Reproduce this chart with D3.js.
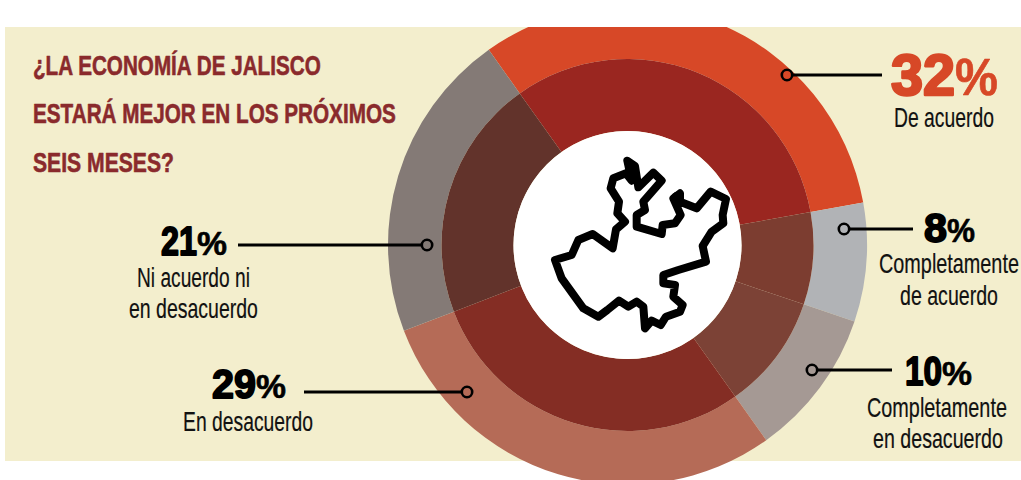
<!DOCTYPE html>
<html><head><meta charset="utf-8">
<script src="https://cdn.jsdelivr.net/npm/d3@7"></script>
<style>html,body{margin:0;padding:0;background:#fff}svg{display:block}text{font-family:"Liberation Sans Narrow","Liberation Sans",Arial,sans-serif}</style>
</head><body><svg id="c" width="1021" height="480"></svg>
<script>
const categories=["De acuerdo","Completamente de acuerdo","Completamente en desacuerdo","En desacuerdo","Ni acuerdo ni en desacuerdo"];
const values=[32,8,10,29,21];
const outerColors=["#d74827","#b1b3b6","#a59994","#b56b57","#847a76"];
const innerColors=["#9a2620","#7c3d30","#7c4236","#842d24","#62332b"];
const titleLines=["¿LA ECONOMÍA DE JALISCO","ESTARÁ MEJOR EN LOS PRÓXIMOS","SEIS MESES?"];
const outlineShape=[[105,390],[155,375],[175,330],[218,312],[278,355],[288,298],[315,275],[292,250],[297,215],[272,175],[280,145],[318,130],[335,152],[322,92],[345,108],[355,172],[400,128],[425,152],[370,215],[375,240],[350,255],[350,290],[425,312],[428,285],[465,280],[482,255],[460,205],[480,190],[480,215],[530,235],[572,185],[618,207],[608,255],[610,280],[575,305],[548,348],[558,395],[475,420],[430,435],[430,460],[465,465],[460,500],[488,525],[480,545],[438,560],[422,585],[395,572],[375,595],[370,530],[350,515],[325,530],[297,512],[262,540],[235,560],[190,535],[125,445]];
const outlineBlobs=[[335,120],[472,205]];

const svg=d3.select("#c");
const cx=627.5,cy=245,rIn=114,rMid=186,rOut=239.5;
svg.append("rect").attr("x",5).attr("y",27).attr("width",1016).attr("height",434).attr("fill","#f3eecd");
svg.append("defs").append("clipPath").attr("id","clip").append("rect").attr("x",0).attr("y",27).attr("width",1021).attr("height",453);

const pie=d3.pie().sort(null).startAngle(-35.4*Math.PI/180).endAngle((360-35.4)*Math.PI/180);
const arcs=pie(values);
const g=svg.append("g").attr("clip-path","url(#clip)").append("g").attr("transform",`translate(${cx},${cy})`);
const outer=d3.arc().innerRadius(rMid).outerRadius(rOut), inner=d3.arc().innerRadius(rIn).outerRadius(rMid);
g.selectAll(".o").data(arcs).join("path").attr("d",outer).attr("fill",(d,i)=>outerColors[i]);
g.selectAll(".i").data(arcs).join("path").attr("d",inner).attr("fill",(d,i)=>innerColors[i]);
g.append("circle").attr("r",rIn).attr("fill","#fff");

const sx=d3.scaleLinear().domain([0,720]).range([520,760]);
const sy=d3.scaleLinear().domain([0,660]).range([130,350]);
svg.append("path").attr("d",d3.line().x(d=>sx(d[0])).y(d=>sy(d[1])).curve(d3.curveLinearClosed)(outlineShape))
 .attr("fill","none").attr("stroke","#000").attr("stroke-width",8).attr("stroke-linejoin","round");
svg.selectAll(".b").data(outlineBlobs).join("circle").attr("cx",d=>sx(d[0])).attr("cy",d=>sy(d[1])).attr("r",6.5).attr("fill","#000");

function T(s,x0,x1,y,size,fill,sw,bold){
 const t=svg.append("text").attr("font-size",size).attr("fill",fill).attr("x",0).attr("y",0).text(s);
 if(bold)t.attr("font-weight","700");
 if(sw)t.attr("stroke",fill).attr("stroke-width",sw).attr("stroke-linejoin","round");
 const w=t.node().getComputedTextLength();
 t.attr("transform",`translate(${x0},${y}) scale(${(x1-x0)/w},1)`);
 return t;
}
T(titleLines[0],33,321,75,28.5,"#8a2a2c",0.6,true);
T(titleLines[1],33,396,123,28.5,"#8a2a2c",0.6,true);
T(titleLines[2],33,174,172,28.5,"#8a2a2c",0.6,true);

const labels=[
 {pct:0,col:"#d74827",x0:891,xm:955,x1:998,y:95,size:58,pc:52,sw:2.6,sub:[["De acuerdo",894,994,127]]},
 {pct:1,col:"#000",x0:924,xm:947,x1:975,y:242,size:41,pc:33,sw:1.8,sub:[["Completamente",879,1019,273],["de acuerdo",900,998,305]]},
 {pct:2,col:"#000",x0:905,xm:942,x1:972,y:385,size:41,pc:33,sw:1.8,sub:[["Completamente",867,1007,417],["en desacuerdo",873,1003,448]]},
 {pct:3,col:"#000",x0:212,xm:256,x1:286,y:398,size:41,pc:33,sw:1.8,sub:[["En desacuerdo",183,313,431]]},
 {pct:4,col:"#000",x0:161,xm:197,x1:227,y:255,size:41,pc:33,sw:1.8,sub:[["Ni acuerdo ni",137,250,287],["en desacuerdo",129,258,318]]}
];
labels.forEach(l=>{
 T(String(values[l.pct]),l.x0,l.xm,l.y,l.size,l.col,l.sw,true);
 T("%",l.xm,l.x1,l.y,l.pc,l.col,0.6,true);
 l.sub.forEach(s=>T(s[0],s[1],s[2],s[3],28,"#111",0.2,false));
});
const leaders=[[787,75,882],[844,229,913],[812,370,892],[467,392,304],[427,245,238]];
leaders.forEach(p=>{
 svg.append("line").attr("x1",p[0]).attr("x2",p[2]).attr("y1",p[1]).attr("y2",p[1]).attr("stroke","#000").attr("stroke-width",2.8);
});
leaders.forEach((p,i)=>{
 svg.append("circle").attr("cx",p[0]).attr("cy",p[1]).attr("r",5.2).attr("fill",outerColors[i]).attr("stroke","#000").attr("stroke-width",2.6);
});
</script></body></html>
